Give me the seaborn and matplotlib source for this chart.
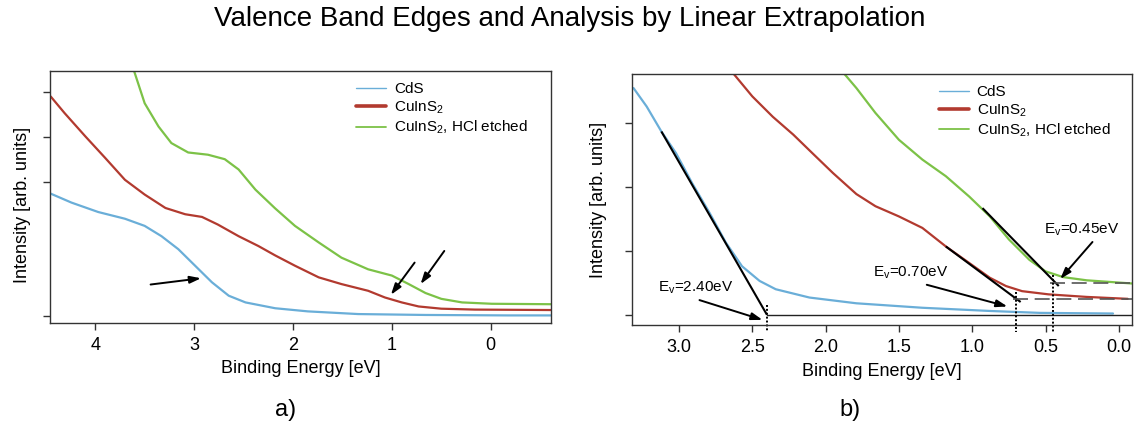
import matplotlib
matplotlib.use("Agg")
import numpy as np
import pandas as pd
import matplotlib.pyplot as plt
import seaborn as sns
from matplotlib.lines import Line2D

# ---------------- data ----------------
series_names = ["CdS", "CuInS$_2$", "CuInS$_2$, HCl etched"]
series_colors = ["#6aaed8", "#b23a2f", "#7cc247"]

# panel a)
a_cds_e = [4.45, 4.24, 3.97, 3.70, 3.50, 3.33, 3.16, 2.99, 2.82, 2.65, 2.48, 2.18, 1.85, 1.34, 0.66, -0.17, -0.61]
a_cds_v = [2.73, 2.53, 2.32, 2.17, 2.01, 1.78, 1.49, 1.12, 0.75, 0.45, 0.30, 0.17, 0.10, 0.04, 0.02, 0.01, 0.01]
a_cis_e = [4.45, 4.31, 4.10, 3.90, 3.70, 3.50, 3.29, 3.09, 2.92, 2.76, 2.55, 2.35, 2.18, 1.98, 1.74, 1.51, 1.24, 1.07, 0.90, 0.73, 0.50, 0.16, -0.61]
a_cis_v = [4.90, 4.53, 4.01, 3.53, 3.04, 2.71, 2.41, 2.27, 2.21, 2.04, 1.78, 1.56, 1.35, 1.12, 0.86, 0.71, 0.56, 0.41, 0.30, 0.21, 0.16, 0.14, 0.13]
a_etch_e = [3.61, 3.50, 3.36, 3.23, 3.06, 2.86, 2.69, 2.55, 2.38, 2.18, 1.98, 1.74, 1.51, 1.24, 1.00, 0.83, 0.66, 0.50, 0.29, -0.01, -0.61]
a_etch_v = [5.49, 4.75, 4.23, 3.86, 3.65, 3.60, 3.50, 3.27, 2.82, 2.40, 2.01, 1.64, 1.30, 1.04, 0.90, 0.71, 0.51, 0.38, 0.30, 0.27, 0.26]
a_xticks = [4, 3, 2, 1, 0]
a_yticks = [0, 3, 4, 5]
# arrows in a): (tail E, tail I, head E, head I)
a_arrows = [(3.44, 0.70, 2.93, 0.84), (0.77, 1.19, 1.01, 0.47), (0.47, 1.45, 0.71, 0.71)]

# panel b)
b_cds_e = [3.31, 3.22, 3.12, 3.02, 2.91, 2.79, 2.68, 2.57, 2.45, 2.34, 2.11, 1.79, 1.34, 0.88, 0.54, 0.04]
b_cds_v = [3.55, 3.26, 2.87, 2.53, 2.06, 1.59, 1.13, 0.76, 0.53, 0.40, 0.27, 0.18, 0.11, 0.06, 0.03, 0.02]
b_cis_e = [2.63, 2.50, 2.36, 2.22, 2.09, 1.95, 1.79, 1.66, 1.50, 1.34, 1.18, 1.02, 0.88, 0.77, 0.66, 0.48, 0.22, -0.06]
b_cis_v = [3.78, 3.42, 3.10, 2.82, 2.53, 2.22, 1.89, 1.70, 1.54, 1.36, 1.07, 0.81, 0.58, 0.45, 0.37, 0.32, 0.28, 0.25]
b_etch_e = [1.89, 1.79, 1.66, 1.50, 1.34, 1.18, 1.02, 0.88, 0.75, 0.61, 0.50, 0.38, 0.22, -0.09]
b_etch_v = [3.82, 3.55, 3.16, 2.74, 2.43, 2.17, 1.85, 1.54, 1.18, 0.86, 0.68, 0.59, 0.54, 0.49]
b_xticks = [3.0, 2.5, 2.0, 1.5, 1.0, 0.5, 0.0]
b_yticks = [0, 1, 2, 3]

# linear extrapolation: edge values, baselines, tangent segments
edge_values = [2.40, 0.70, 0.45]
edge_labels = ["E$_v$=2.40eV", "E$_v$=0.70eV", "E$_v$=0.45eV"]
baseline_levels = [0.00, 0.24, 0.49]
tangent_start_e = [3.12, 1.18, 0.93]
tangent_start_v = [2.87, 1.07, 1.67]
tangent_end_e = [2.40, 0.67, 0.41]
tangent_end_v = [0.00, 0.20, 0.45]
dotted_top = [0.16, 0.36, 0.63]
label_pos_e = [3.14, 1.68, 0.51]
label_pos_v = [0.42, 0.65, 1.33]
b_arrows = [(2.86, 0.23, 2.43, -0.08), (1.31, 0.47, 0.76, 0.13), (0.18, 1.14, 0.40, 0.56)]

# ---------------- style ----------------
sns.set_theme(style="ticks")
plt.rcParams["font.family"] = ["Liberation Sans", "DejaVu Sans"]
plt.rcParams["mathtext.default"] = "regular"
plt.rcParams["axes.edgecolor"] = "#333333"
plt.rcParams["axes.linewidth"] = 1.0
plt.rcParams["text.color"] = "black"
plt.rcParams["axes.labelcolor"] = "black"
plt.rcParams["xtick.color"] = "#333333"
plt.rcParams["ytick.color"] = "#333333"
plt.rcParams["xtick.labelcolor"] = "black"

palette = dict(zip(series_names, series_colors))

def frame(names, es, vs):
    rows = []
    for n, e, v in zip(names, es, vs):
        rows.append(pd.DataFrame({"E": e, "I": v, "sample": n}))
    return pd.concat(rows, ignore_index=True)

df_a = frame(series_names, [a_cds_e, a_cis_e, a_etch_e], [a_cds_v, a_cis_v, a_etch_v])
df_b = frame(series_names, [b_cds_e, b_cis_e, b_etch_e], [b_cds_v, b_cis_v, b_etch_v])

fig = plt.figure(figsize=(11.45, 4.33), dpi=100)
ax_a = fig.add_axes([0.0437, 0.254, 0.4376, 0.582])
ax_b = fig.add_axes([0.552, 0.2494, 0.4367, 0.5797])

for ax, df in [(ax_a, df_a), (ax_b, df_b)]:
    sns.lineplot(data=df, x="E", y="I", hue="sample", palette=palette, sort=False,
                 estimator=None, linewidth=1.6, legend=False, ax=ax)

def style_axis(ax, xlim, ylim, xticks, xtlabels, yticks):
    ax.set_xlim(*xlim)
    ax.set_ylim(*ylim)
    ax.set_xticks(xticks)
    ax.set_xticklabels(xtlabels, fontsize=13)
    ax.set_yticks(yticks)
    ax.set_yticklabels([])
    ax.tick_params(axis="both", direction="out", length=5, width=1, pad=5)
    ax.set_xlabel("Binding Energy [eV]", fontsize=13)
    ax.set_ylabel("Intensity [arb. units]", fontsize=13)
    for s in ax.spines.values():
        s.set_visible(True)

style_axis(ax_a, (4.457, -0.61), (-0.16, 5.47), a_xticks, [str(t) for t in a_xticks], a_yticks)
style_axis(ax_b, (3.32, -0.09), (-0.16, 3.77), b_xticks, [f"{t:.1f}" for t in b_xticks], b_yticks)
ax_a.xaxis.set_label_coords(0.5, -0.145)
ax_b.xaxis.set_label_coords(0.5, -0.152)
ax_a.yaxis.set_label_coords(-0.038, 0.47)
ax_b.yaxis.set_label_coords(-0.05, 0.5)

arrow_style = dict(arrowstyle="-|>,head_length=0.55,head_width=0.18", color="black",
                   lw=1.4, shrinkA=0, shrinkB=0)
for te, tv, he, hv in a_arrows:
    ax_a.annotate("", xy=(he, hv), xytext=(te, tv), arrowprops=arrow_style)

# panel b: extrapolation lines
xmax_b = ax_b.get_xlim()[1]
for i in range(3):
    ax_b.plot([tangent_start_e[i], tangent_end_e[i]], [tangent_start_v[i], tangent_end_v[i]],
              color="black", lw=1.5, solid_capstyle="butt")
    if i == 0:
        ax_b.plot([edge_values[i], xmax_b], [baseline_levels[i]] * 2, color="#222222", lw=1.0)
    else:
        ax_b.plot([edge_values[i] + 0.02, xmax_b], [baseline_levels[i]] * 2, color="#555555",
                  lw=1.2, dashes=(9, 4))
    ax_b.plot([edge_values[i]] * 2, [dotted_top[i], -0.27], color="black", lw=1.4,
              linestyle=(0, (1, 1)), clip_on=False)
    ax_b.text(label_pos_e[i], label_pos_v[i], edge_labels[i], fontsize=11, ha="left",
              va="center")
    te, tv, he, hv = b_arrows[i]
    ax_b.annotate("", xy=(he, hv), xytext=(te, tv), arrowprops=arrow_style)

# legends
handles = [Line2D([], [], color=c, lw=w) for c, w in zip(series_colors, [1.0, 2.6, 1.3])]
for ax, bx in [(ax_a, (0.61, 0.955)), (ax_b, (0.613, 0.955))]:
    ax.legend(handles, series_names, loc="upper left", bbox_to_anchor=bx, frameon=False,
              fontsize=11, handlelength=2.0, handletextpad=0.5, labelspacing=0.2,
              borderpad=0, borderaxespad=0)

fig.text(0.4975, 0.956, "Valence Band Edges and Analysis by Linear Extrapolation",
         ha="center", va="center", fontsize=20)
fig.text(0.249, 0.053, "a)", ha="center", va="center", fontsize=17)
fig.text(0.742, 0.053, "b)", ha="center", va="center", fontsize=17)

fig.savefig("out.png", dpi=100)
